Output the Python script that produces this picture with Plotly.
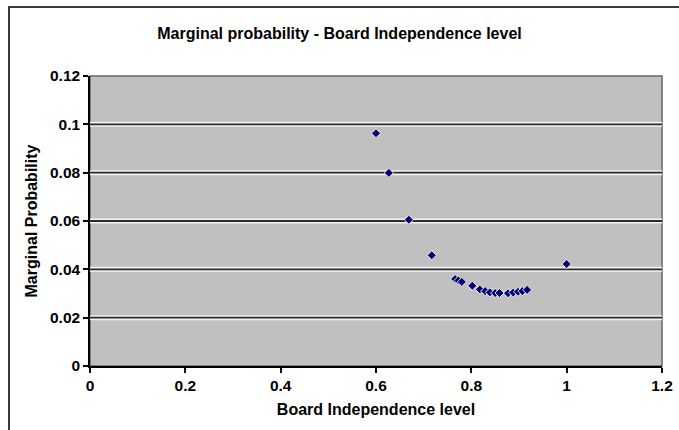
import plotly.graph_objects as go

# Data
board_independence = [0.60, 0.627, 0.669, 0.717, 0.766, 0.773, 0.780, 0.802, 0.818,
                      0.829, 0.839, 0.850, 0.859, 0.877, 0.888, 0.898, 0.907, 0.917, 1.00]
marginal_probability = [0.0963, 0.0799, 0.0605, 0.0458, 0.0360, 0.0354, 0.0348, 0.0332, 0.0317,
                        0.0310, 0.0305, 0.0302, 0.0302, 0.0301, 0.0304, 0.0307, 0.0310, 0.0315, 0.0422]

x_ticks = [0, 0.2, 0.4, 0.6, 0.8, 1.0, 1.2]
x_tick_labels = ["0", "0.2", "0.4", "0.6", "0.8", "1", "1.2"]
y_ticks = [0, 0.02, 0.04, 0.06, 0.08, 0.10, 0.12]
y_tick_labels = ["0", "0.02", "0.04", "0.06", "0.08", "0.1", "0.12"]

title_text = "Marginal probability - Board Independence level"
x_title = "Board Independence level"
y_title = "Marginal Probability"

W, H = 679, 430
ML, MR, MT, MB = 90, 17, 76, 64
PW = W - ML - MR
PH = H - MT - MB

font_family = "Arial, Liberation Sans, sans-serif"

fig = go.Figure()
fig.add_trace(go.Scatter(
    x=board_independence, y=marginal_probability, mode="markers",
    marker=dict(symbol="diamond", size=7, color="#000080",
                line=dict(color="#F4F2D0", width=1)),
    hoverinfo="x+y", showlegend=False,
))

shapes = []
# outer chart frame
shapes.append(dict(type="rect", xref="paper", yref="paper",
                   x0=(9 - ML) / PW, x1=1 + (MR + 4) / PW,
                   y0=-(MB + 6) / PH, y1=1 + (MT - 7) / PH,
                   line=dict(color="#3a3a3a", width=2), fillcolor="rgba(0,0,0,0)", layer="below"))
# plot area border (gray)
shapes.append(dict(type="rect", xref="paper", yref="paper", x0=0, x1=1, y0=0, y1=1,
                   line=dict(color="#666666", width=1.5), fillcolor="#C0C0C0", layer="below"))
# embossed gridlines: light halo then dark line
for v in y_ticks[1:-1]:
    shapes.append(dict(type="line", xref="paper", yref="y", x0=0, x1=1, y0=v, y1=v,
                       line=dict(color="#F2F2F2", width=5), layer="below"))
for v in y_ticks[1:-1]:
    shapes.append(dict(type="line", xref="paper", yref="y", x0=0, x1=1, y0=v, y1=v,
                       line=dict(color="#2b2b2b", width=1.8), layer="below"))

fig.update_layout(
    width=W, height=H,
    margin=dict(l=ML, r=MR, t=MT, b=MB, autoexpand=False),
    paper_bgcolor="white", plot_bgcolor="#C0C0C0",
    font=dict(family=font_family, color="black", size=12),
    title=dict(text="<b>" + title_text + "</b>", x=0.5, xref="container", xanchor="center",
               y=1 - 33 / H, yref="container", yanchor="middle",
               font=dict(size=16, family=font_family, color="black")),
    shapes=shapes,
    xaxis=dict(range=[0, 1.2], tickvals=x_ticks, ticktext=["<b>%s</b>" % t for t in x_tick_labels],
               showgrid=False, zeroline=False, showline=True, linecolor="black", linewidth=1.5,
               ticks="outside", ticklen=5, tickcolor="black", tickwidth=1.5,
               tickfont=dict(size=15.5, family=font_family),
               title=dict(text="<b>" + x_title + "</b>", font=dict(size=16, family=font_family), standoff=10)),
    yaxis=dict(range=[0, 0.12], tickvals=y_ticks, ticktext=["<b>%s</b>" % t for t in y_tick_labels],
               showgrid=False, zeroline=False, showline=True, linecolor="black", linewidth=1.5,
               ticks="outside", ticklen=5, tickcolor="black", tickwidth=1.5,
               tickfont=dict(size=15.5, family=font_family),
               title=dict(text="<b>" + y_title + "</b>", font=dict(size=16, family=font_family), standoff=8)),
)

fig.write_html("out.html", config={"displayModeBar": False},
               post_script="document.body.style.margin='0';document.body.style.overflow='hidden';")
